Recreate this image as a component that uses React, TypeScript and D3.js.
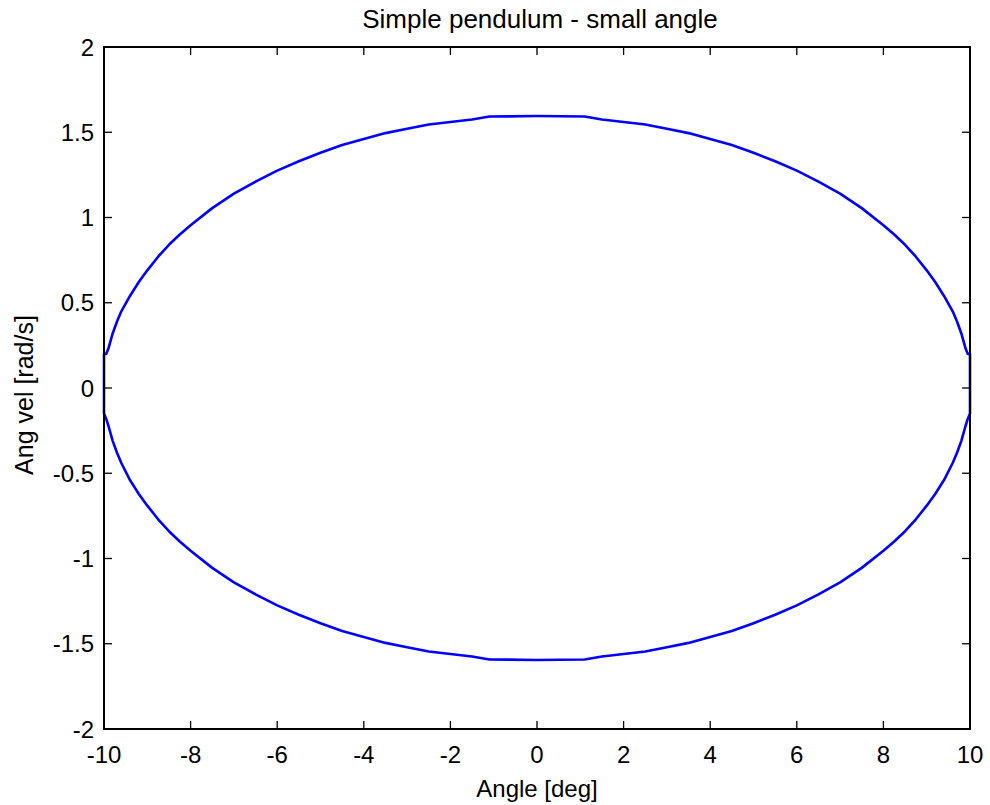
import React from "react";
import * as d3 from "d3";

const title = "Simple pendulum - small angle";
const xLabel = "Angle [deg]";
const yLabel = "Ang vel [rad/s]";
const xTicks = [-10, -8, -6, -4, -2, 0, 2, 4, 6, 8, 10];
const yTicks = [-2, -1.5, -1, -0.5, 0, 0.5, 1, 1.5, 2];

// Phase trajectory (upper half then lower half)
const angleUpper = [-10, -10, -9.95, -9.9, -9.8, -9.7, -9.6, -9.4, -9.2, -9, -8.75, -8.5, -8.25, -8, -7.5, -7, -6.5, -6, -5.5, -5, -4.5, -4, -3.5, -3, -2.5, -2, -1.5, -1.1, 0, 1.1, 1.5, 2, 2.5, 3, 3.5, 4, 4.5, 5, 5.5, 6, 6.5, 7, 7.5, 8, 8.25, 8.5, 8.75, 9, 9.2, 9.4, 9.6, 9.7, 9.8, 9.9, 9.95, 10, 10];
const velUpper = [0, 0.2, 0.2, 0.23, 0.32, 0.39, 0.45, 0.54, 0.62, 0.69, 0.77, 0.84, 0.9, 0.955, 1.055, 1.14, 1.21, 1.275, 1.33, 1.38, 1.425, 1.46, 1.495, 1.52, 1.545, 1.56, 1.575, 1.592, 1.595, 1.592, 1.575, 1.56, 1.545, 1.52, 1.495, 1.46, 1.425, 1.38, 1.33, 1.275, 1.21, 1.14, 1.055, 0.955, 0.9, 0.84, 0.77, 0.69, 0.62, 0.54, 0.45, 0.39, 0.32, 0.23, 0.2, 0.2, 0];
const angleLower = [10, 10, 9.95, 9.9, 9.8, 9.7, 9.6, 9.4, 9.2, 9, 8.75, 8.5, 8.25, 8, 7.5, 7, 6.5, 6, 5.5, 5, 4.5, 4, 3.5, 3, 2.5, 2, 1.5, 1.1, 0, -1.1, -1.5, -2, -2.5, -3, -3.5, -4, -4.5, -5, -5.5, -6, -6.5, -7, -7.5, -8, -8.25, -8.5, -8.75, -9, -9.2, -9.4, -9.6, -9.7, -9.8, -9.9, -9.95, -10, -10];
const velLower = [0, -0.15, -0.18, -0.22, -0.31, -0.38, -0.44, -0.54, -0.62, -0.69, -0.77, -0.84, -0.9, -0.955, -1.055, -1.14, -1.21, -1.275, -1.33, -1.38, -1.425, -1.46, -1.495, -1.52, -1.545, -1.56, -1.575, -1.592, -1.595, -1.592, -1.575, -1.56, -1.545, -1.52, -1.495, -1.46, -1.425, -1.38, -1.33, -1.275, -1.21, -1.14, -1.055, -0.955, -0.9, -0.84, -0.77, -0.69, -0.62, -0.54, -0.44, -0.38, -0.31, -0.22, -0.18, -0.15, 0];

const W = 990;
const H = 805;
const m = { left: 104, right: 970, top: 47, bottom: 729 };
const FONT = "'Liberation Sans', Arial, sans-serif";

export default function App() {
  const x = d3.scaleLinear().domain([-10, 10]).range([m.left, m.right]);
  const y = d3.scaleLinear().domain([-2, 2]).range([m.bottom, m.top]);

  const pts: [number, number][] = [
    ...angleUpper.map((a, i) => [a, velUpper[i]] as [number, number]),
    ...angleLower.map((a, i) => [a, velLower[i]] as [number, number]),
  ];
  const line = d3
    .line<[number, number]>()
    .x((d) => x(d[0]))
    .y((d) => y(d[1]))
    .curve(d3.curveLinear);

  const tl = 8;
  const fmt = (v: number) => (v === 0 ? "0" : String(v));

  return (
    <svg
      width={W}
      height={H}
      style={{ position: "absolute", left: 0, top: 0, background: "#fff" }}
      fontFamily={FONT}
    >
      <rect x={0} y={0} width={W} height={H} fill="#fff" />
      <path d={line(pts) || ""} fill="none" stroke="#0000ff" strokeWidth={2.6} strokeLinejoin="round" />
      {xTicks.map((t) => (
        <g key={"x" + t}>
          <line x1={x(t)} x2={x(t)} y1={m.bottom} y2={m.bottom - tl} stroke="#000" strokeWidth={1.3} />
          <line x1={x(t)} x2={x(t)} y1={m.top} y2={m.top + tl} stroke="#000" strokeWidth={1.3} />
          <text x={x(t)} y={763} textAnchor="middle" fontSize={24} fill="#000">
            {fmt(t)}
          </text>
        </g>
      ))}
      {yTicks.map((t) => (
        <g key={"y" + t}>
          <line x1={m.left} x2={m.left + tl} y1={y(t)} y2={y(t)} stroke="#000" strokeWidth={1.3} />
          <line x1={m.right} x2={m.right - tl} y1={y(t)} y2={y(t)} stroke="#000" strokeWidth={1.3} />
          <text x={94} y={y(t) + 8.5} textAnchor="end" fontSize={24} fill="#000">
            {fmt(t)}
          </text>
        </g>
      ))}
      <rect
        x={m.left}
        y={m.top}
        width={m.right - m.left}
        height={m.bottom - m.top}
        fill="none"
        stroke="#000"
        strokeWidth={2}
      />
      <text x={540} y={28} textAnchor="middle" fontSize={26} fill="#000">
        {title}
      </text>
      <text x={537} y={797} textAnchor="middle" fontSize={24} fill="#000">
        {xLabel}
      </text>
      <text
        transform={`translate(33, ${(m.top + m.bottom) / 2 + 7}) rotate(-90)`}
        textAnchor="middle"
        fontSize={25}
        fill="#000"
      >
        {yLabel}
      </text>
    </svg>
  );
}
